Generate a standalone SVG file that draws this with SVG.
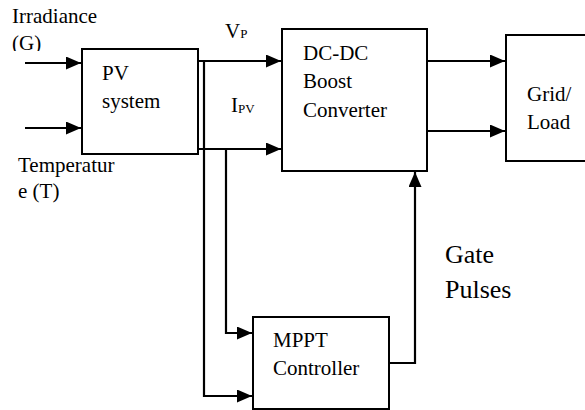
<svg xmlns="http://www.w3.org/2000/svg" width="585" height="410" viewBox="0 0 585 410">
<defs>
<marker id="ah" markerUnits="userSpaceOnUse" markerWidth="16" markerHeight="14" refX="15" refY="6.5" orient="auto">
<path d="M0,0 L15,6.5 L0,13 z" fill="#000"/>
</marker>
<clipPath id="gclip"><rect x="0" y="0" width="100" height="51"/></clipPath>
</defs>
<rect width="585" height="410" fill="#fff"/>
<g id="connectors" fill="none" stroke="#000" stroke-width="2.2">
<path d="M25,63 H81" marker-end="url(#ah)"/>
<path d="M25,128 H81" marker-end="url(#ah)"/>
<path d="M198,61 H281" marker-end="url(#ah)"/>
<path d="M198,149 H281" marker-end="url(#ah)"/>
<path d="M204,61 V396 H252" marker-end="url(#ah)"/>
<path d="M226,149 V333 H252" marker-end="url(#ah)"/>
<path d="M427,61 H505" marker-end="url(#ah)"/>
<path d="M427,131 H505" marker-end="url(#ah)"/>
<path d="M389,363 H415 V172" marker-end="url(#ah)"/>
</g>
<g id="labels" font-family="'Liberation Serif', serif" font-size="21" fill="#000">
<text x="12" y="23">Irradiance</text>
<text x="12" y="50" clip-path="url(#gclip)">(G)</text>
<text x="18" y="172">Temperatur</text>
<text x="18" y="198">e (T)</text>
<text x="225" y="38">V<tspan font-size="13">P</tspan></text>
<text x="231" y="112">I<tspan font-size="13" dy="1">PV</tspan></text>
<text x="445" y="263" font-size="26">Gate</text>
<text x="445" y="298" font-size="26">Pulses</text>
</g>
<g id="pv" font-family="'Liberation Serif', serif" font-size="21">
<rect x="82" y="49" width="116" height="105" fill="#fff" stroke="#000" stroke-width="2"/>
<text x="102" y="80">PV</text>
<text x="102" y="108">system</text>
</g>
<g id="dcdc" font-family="'Liberation Serif', serif" font-size="21">
<rect x="282" y="29" width="145" height="142" fill="#fff" stroke="#000" stroke-width="2"/>
<text x="303" y="60">DC-DC</text>
<text x="303" y="88">Boost</text>
<text x="303" y="117">Converter</text>
</g>
<g id="grid" font-family="'Liberation Serif', serif" font-size="21">
<rect x="506" y="35" width="90" height="126" fill="#fff" stroke="#000" stroke-width="2"/>
<text x="527" y="101">Grid/</text>
<text x="527" y="129">Load</text>
</g>
<g id="mppt" font-family="'Liberation Serif', serif" font-size="21">
<rect x="253" y="317" width="136" height="92" fill="#fff" stroke="#000" stroke-width="2"/>
<text x="273" y="347">MPPT</text>
<text x="273" y="375">Controller</text>
</g>
</svg>
